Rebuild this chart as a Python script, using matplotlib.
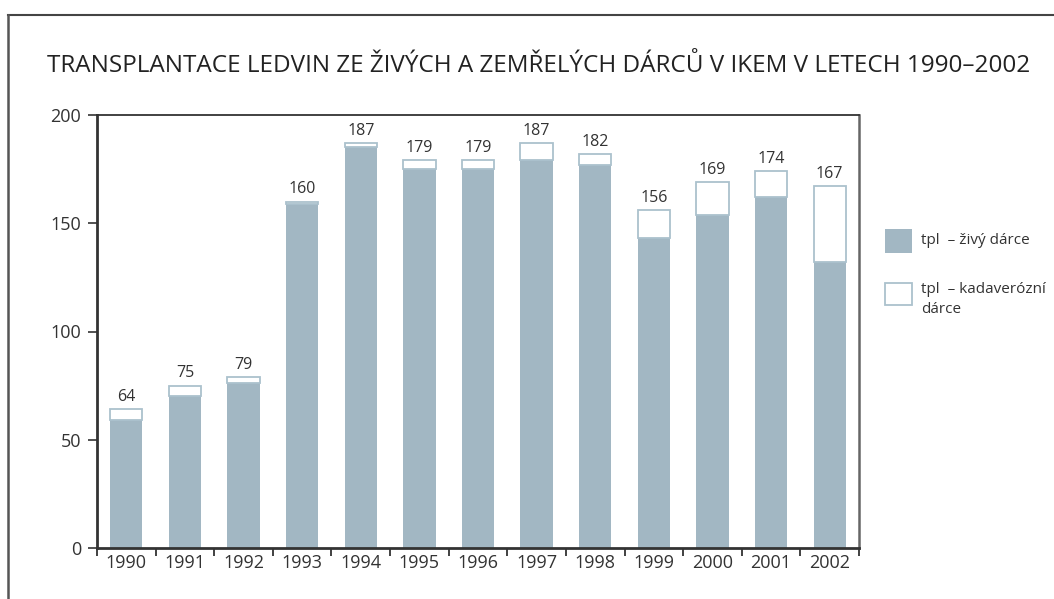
import matplotlib
matplotlib.use("Agg")
import matplotlib.pyplot as plt
from matplotlib.patches import Rectangle
from matplotlib.lines import Line2D
import numpy as np

plt.rcParams['font.family'] = ['Open Sans', 'DejaVu Sans']

years = ['1990', '1991', '1992', '1993', '1994', '1995', '1996',
         '1997', '1998', '1999', '2000', '2001', '2002']
totals = [64, 75, 79, 160, 187, 179, 179, 187, 182, 156, 169, 174, 167]
zivy = [59, 70, 76, 159, 185, 175, 175, 179, 177, 143, 154, 162, 132]
kadaver = [t - z for t, z in zip(totals, zivy)]

title = 'TRANSPLANTACE LEDVIN ZE ŽIVÝCH A ZEMŘELÝCH DÁRCŮ V IKEM V LETECH 1990–2002'
label_zivy = 'tpl  – živý dárce'
label_kadaver = 'tpl  – kadaverózní\ndárce'

GRAY = '#a2b7c3'
EDGE = '#abc1cd'
DARK = '#333333'

fig = plt.figure(figsize=(10.54, 5.99), dpi=100)
ax = fig.add_axes([97 / 1054, 51 / 599, 762 / 1054, 433 / 599])

x = np.arange(len(years))
ax.bar(x, zivy, width=0.55, color=GRAY, edgecolor='none', zorder=2)
ax.bar(x, kadaver, width=0.55, bottom=zivy, color='white',
       edgecolor=EDGE, linewidth=1.3, zorder=3)

# popisky nad sloupci
for xi, t in zip(x, totals):
    ax.text(xi, t + 2.0, str(t), ha='center', va='bottom',
            fontsize=11.5, color=DARK)

ax.set_xlim(-0.5, 12.5)
ax.set_ylim(0, 200)
ax.set_yticks([0, 50, 100, 150, 200])
ax.tick_params(axis='y', direction='out', length=6.5, width=1.2,
               colors=DARK, labelsize=13, pad=5)

# roky pod osou, carky mezi kategoriemi
ax.set_xticks(x)
ax.set_xticklabels(years)
ax.set_xticks(np.arange(-0.5, 13, 1), minor=True)
ax.tick_params(axis='x', which='major', length=0, labelsize=13,
               colors=DARK, pad=4)
ax.tick_params(axis='x', which='minor', direction='out', length=6,
               width=1.3, color=DARK)

ax.spines['left'].set_linewidth(2)
ax.spines['left'].set_color(DARK)
ax.spines['bottom'].set_linewidth(2)
ax.spines['bottom'].set_color(DARK)
ax.spines['top'].set_linewidth(1.3)
ax.spines['top'].set_color(DARK)
ax.spines['right'].set_linewidth(1.8)
ax.spines['right'].set_color('#666666')

fig.text(47 / 1054, 1 - 66 / 599, title, ha='left', va='center',
         fontsize=17.5, color='#222222')

# legenda
fig.add_artist(Rectangle((885 / 1054, 1 - 253 / 599), 27 / 1054, 24 / 599,
                         transform=fig.transFigure, facecolor=GRAY,
                         edgecolor='none'))
fig.add_artist(Rectangle((885 / 1054, 1 - 305 / 599), 27 / 1054, 22 / 599,
                         transform=fig.transFigure, facecolor='white',
                         edgecolor=EDGE, linewidth=1.3))
fig.text(921 / 1054, 1 - 241 / 599, label_zivy, ha='left', va='center',
         fontsize=11, color=DARK)
fig.text(921 / 1054, 1 - 282 / 599, label_kadaver, ha='left', va='top',
         fontsize=11, color=DARK, linespacing=1.45)

# ramecek kolem obrazku
fig.add_artist(Line2D([8 / 1054, 1], [1 - 15 / 599, 1 - 15 / 599],
                      transform=fig.transFigure, color='#444444', lw=1.5))
fig.add_artist(Line2D([8 / 1054, 8 / 1054], [0, 1 - 15 / 599],
                      transform=fig.transFigure, color='#555555', lw=1.8))

fig.savefig('out.png', dpi=100)
